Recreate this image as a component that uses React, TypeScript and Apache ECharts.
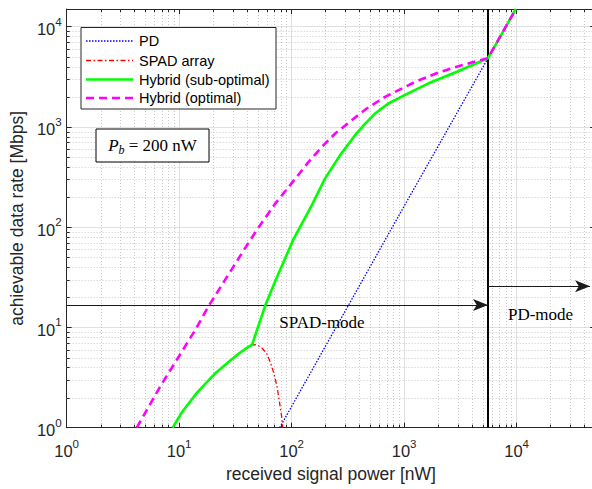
import React, { useEffect, useRef } from 'react';
import * as echarts from 'echarts';

// ---- data (x: received power [nW], y: rate [Mbps]) ----
const pdPoints: number[][] = [[78.3, 1], [1010, 165], [5570, 4845], [9850, 15000]];

const spadPoints: number[][] = [
  [8.77, 1], [10.7, 1.45], [14.5, 2.25], [21, 3.5], [28, 4.6], [34, 5.5], [40, 6.25], [44.6, 6.75],
  [49.5, 6.7], [54.7, 6.2], [60, 5.5], [64.7, 4.5], [70, 3.4], [74.2, 2.56], [78, 1.8], [82, 1.24], [83.5, 1],
];

const hybridSubPoints: number[][] = [
  [8.77, 1], [10.7, 1.45], [14.5, 2.25], [21, 3.5], [28, 4.6], [34, 5.5], [40, 6.25], [44.6, 6.75],
  [49, 9.3], [58.5, 16.7], [71.6, 29], [104, 76], [151, 165], [198, 305], [269, 520], [365, 822],
  [447, 1067], [548, 1352], [719, 1702], [1000, 2061], [1735, 2794], [2985, 3572], [5570, 4845], [9850, 15000],
];

const hybridOptPoints: number[][] = [
  [4.2, 1], [6.9, 2.66], [9.37, 4.6], [14.1, 9.7], [18.5, 16.7], [27.8, 34.5], [41.7, 71], [51, 100],
  [71.6, 172], [108, 305], [141, 446], [185, 629], [243, 855], [341, 1161], [462, 1518], [671, 1982],
  [1236, 2794], [1990, 3467], [3192, 4100], [5570, 4845], [9850, 15000],
];

const legendNames = ['PD', 'SPAD array', 'Hybrid (sub-optimal)', 'Hybrid (optimal)'];
const switchPower = 5570;
const spadArrowY = 16.7;
const pdArrowY = 25.8;
const pdArrowEnd = 45000;

const X_MIN = 1;
const X_MAX = 50000;
const Y_MIN = 1;
const Y_MAX = 15000;

const xMinor: number[] = [];
for (let k = 0; k <= 4; k++) for (let m = 2; m <= 9; m++) { const v = m * Math.pow(10, k); if (v < X_MAX) xMinor.push(v); }
const yMinor: number[] = [];
for (let k = 0; k <= 3; k++) for (let m = 2; m <= 9; m++) { const v = m * Math.pow(10, k); if (v < Y_MAX) yMinor.push(v); }

const SANS = '"Liberation Sans", Arial, Helvetica, sans-serif';
const SERIF = '"Liberation Serif", "Times New Roman", serif';
const AX = '#262626';

const powLabel = (v: number) => {
  const e = Math.log10(v);
  if (Math.abs(e - Math.round(e)) > 1e-6) return '';
  return `{b|10}{s|${Math.round(e)}}`;
};
const labelRich = {
  b: { fontSize: 16.5, fontFamily: SANS, color: AX, lineHeight: 22, verticalAlign: 'bottom' },
  s: { fontSize: 11.5, fontFamily: SANS, color: AX, lineHeight: 10, verticalAlign: 'top' },
};

const minorRender = (isX: boolean) => (params: any, api: any) => {
  const cs = params.coordSys;
  const v = api.value(isX ? 0 : 1);
  const p = api.coord(isX ? [v, Y_MIN] : [X_MIN, v]);
  const grid = { stroke: '#c9c9c9', lineWidth: 1, lineDash: [1, 2] };
  const tick = { stroke: AX, lineWidth: 1 };
  if (isX) {
    const x = Math.round(p[0]) + 0.5;
    const t = cs.y, b = cs.y + cs.height;
    return {
      type: 'group', children: [
        { type: 'line', shape: { x1: x, y1: t, x2: x, y2: b }, style: grid },
        { type: 'line', shape: { x1: x, y1: b, x2: x, y2: b - 3 }, style: tick },
        { type: 'line', shape: { x1: x, y1: t, x2: x, y2: t + 3 }, style: tick },
      ],
    };
  }
  const y = Math.round(p[1]) + 0.5;
  const l = cs.x, r = cs.x + cs.width;
  return {
    type: 'group', children: [
      { type: 'line', shape: { x1: l, y1: y, x2: r, y2: y }, style: grid },
      { type: 'line', shape: { x1: l, y1: y, x2: l + 3, y2: y }, style: tick },
      { type: 'line', shape: { x1: r, y1: y, x2: r - 3, y2: y }, style: tick },
    ],
  };
};

const legendStyles = [
  { stroke: '#0000ff', lineWidth: 1.3, lineDash: [1.5, 1.5] },
  { stroke: '#ff0000', lineWidth: 1.3, lineDash: [5, 2.5, 1.5, 2.5] },
  { stroke: '#00ff00', lineWidth: 2.6 },
  { stroke: '#ff00ff', lineWidth: 2.6, lineDash: [8, 5] },
];
const legendRowsY = [41, 60.5, 79.5, 98];

export default function App() {
  const ref = useRef<HTMLDivElement>(null);
  useEffect(() => {
    const chart = echarts.init(ref.current!, undefined, { renderer: 'svg' });
    const legendGraphics: any[] = [
      { type: 'rect', shape: { x: 81, y: 27.5, width: 195, height: 81.5 }, style: { fill: '#fff', stroke: AX, lineWidth: 1 }, z: 100 },
    ];
    legendNames.forEach((n, i) => {
      legendGraphics.push({ type: 'line', shape: { x1: 86, y1: legendRowsY[i], x2: 133, y2: legendRowsY[i] }, style: legendStyles[i], z: 101 });
      legendGraphics.push({
        type: 'text', x: 139, y: legendRowsY[i], z: 101,
        style: { text: n, fontSize: 14.5, fontFamily: SANS, fill: '#000', align: 'left', verticalAlign: 'middle', textAlign: 'left', textVerticalAlign: 'middle' },
      });
    });

    const arrowLine = { color: '#1a1a1a', width: 1, type: 'solid' };
    const option: any = {
      animation: false,
      backgroundColor: '#fff',
      grid: { left: 63.3, top: 9, width: 531.9, height: 418.7 },
      xAxis: [
        {
          type: 'log', logBase: 10, min: X_MIN, max: X_MAX, position: 'bottom',
          axisLine: { show: true, lineStyle: { color: AX, width: 1 } },
          axisTick: { show: true, inside: true, length: 5, lineStyle: { color: AX } },
          axisLabel: { formatter: powLabel, rich: labelRich, margin: 10, showMaxLabel: false },
          splitLine: { show: true, lineStyle: { color: '#e0e0e0', width: 1 } },
          name: 'received signal power [nW]', nameLocation: 'middle', nameGap: 37,
          nameTextStyle: { fontSize: 17.5, fontFamily: SANS, color: AX },
        },
        {
          type: 'log', logBase: 10, min: X_MIN, max: X_MAX, position: 'top',
          axisLine: { show: true, lineStyle: { color: AX, width: 1 } },
          axisTick: { show: true, inside: true, length: 5, lineStyle: { color: AX } },
          axisLabel: { show: false }, splitLine: { show: false },
        },
      ],
      yAxis: [
        {
          type: 'log', logBase: 10, min: Y_MIN, max: Y_MAX, position: 'left',
          axisLine: { show: true, lineStyle: { color: AX, width: 1 } },
          axisTick: { show: true, inside: true, length: 5, lineStyle: { color: AX } },
          axisLabel: { formatter: powLabel, rich: labelRich, margin: 5, showMaxLabel: false },
          splitLine: { show: true, lineStyle: { color: '#e0e0e0', width: 1 } },
          name: 'achievable data rate [Mbps]', nameLocation: 'middle', nameGap: 31,
          nameTextStyle: { fontSize: 17.5, fontFamily: SANS, color: AX },
        },
        {
          type: 'log', logBase: 10, min: Y_MIN, max: Y_MAX, position: 'right',
          axisLine: { show: true, lineStyle: { color: AX, width: 1 } },
          axisTick: { show: true, inside: true, length: 5, lineStyle: { color: AX } },
          axisLabel: { show: false }, splitLine: { show: false },
        },
      ],
      series: [
        {
          type: 'custom', name: 'xminor', z: 1, silent: true, clip: false,
          data: xMinor.map((v) => [v, Y_MIN]), encode: { x: 0, y: 1 },
          renderItem: minorRender(true),
        },
        {
          type: 'custom', name: 'yminor', z: 1, silent: true, clip: false,
          data: yMinor.map((v) => [X_MIN, v]), encode: { x: 0, y: 1 },
          renderItem: minorRender(false),
        },
        {
          type: 'line', name: legendNames[0], data: pdPoints, symbol: 'none', showSymbol: false, z: 3,
          lineStyle: { color: '#0000ff', width: 1.3, type: [1.5, 1.5] },
          markLine: {
            silent: true, animation: false, symbol: ['none', 'none'], label: { show: false }, z: 4,
            data: [
              [
                { coord: [switchPower, Y_MIN], symbol: 'none', lineStyle: { color: '#000', width: 2, type: 'solid' } },
                { coord: [switchPower, Y_MAX], symbol: 'none', lineStyle: { color: '#000', width: 2, type: 'solid' } },
              ],
              [
                { coord: [X_MIN, spadArrowY], symbol: 'none', lineStyle: arrowLine },
                { coord: [switchPower, spadArrowY], symbol: 'arrow', symbolSize: [9, 15], lineStyle: arrowLine },
              ],
              [
                { coord: [switchPower, pdArrowY], symbol: 'none', lineStyle: arrowLine },
                { coord: [pdArrowEnd, pdArrowY], symbol: 'arrow', symbolSize: [9, 15], lineStyle: arrowLine },
              ],
            ],
          },
        },
        {
          type: 'line', name: legendNames[1], data: spadPoints, symbol: 'none', showSymbol: false, z: 5,
          lineStyle: { color: '#ff0000', width: 1.3, type: [5, 2.5, 1.5, 2.5] },
        },
        {
          type: 'line', name: legendNames[2], data: hybridSubPoints, symbol: 'none', showSymbol: false, z: 6,
          lineStyle: { color: '#00ff00', width: 2.6, join: 'round' },
        },
        {
          type: 'line', name: legendNames[3], data: hybridOptPoints, symbol: 'none', showSymbol: false, z: 7,
          lineStyle: { color: '#ff00ff', width: 2.6, type: [8, 5] },
        },
      ],
      graphic: [
        ...legendGraphics,
        { type: 'rect', shape: { x: 96, y: 129, width: 113, height: 33 }, style: { fill: '#fff', stroke: '#000', lineWidth: 1 }, z: 100 },
        {
          type: 'text', x: 152.5, y: 145.5, z: 101,
          style: {
            text: '{i|P}{s|b}{n| = 200 nW}',
            align: 'center', verticalAlign: 'middle', textAlign: 'center', textVerticalAlign: 'middle',
            rich: {
              i: { fontSize: 17, fontFamily: SERIF, fontStyle: 'italic', fill: '#000', color: '#000', lineHeight: 20 },
              s: { fontSize: 12, fontFamily: SERIF, fontStyle: 'italic', fill: '#000', color: '#000', lineHeight: 14, verticalAlign: 'bottom' },
              n: { fontSize: 17, fontFamily: SERIF, fill: '#000', color: '#000', lineHeight: 20 },
            },
          },
        },
        {
          type: 'text', x: 322, y: 322, z: 101,
          style: { text: 'SPAD-mode', fontSize: 17, fontFamily: SERIF, fill: '#000', align: 'center', verticalAlign: 'middle', textAlign: 'center', textVerticalAlign: 'middle' },
        },
        {
          type: 'text', x: 540.5, y: 314, z: 101,
          style: { text: 'PD-mode', fontSize: 17, fontFamily: SERIF, fill: '#000', align: 'center', verticalAlign: 'middle', textAlign: 'center', textVerticalAlign: 'middle' },
        },
      ],
    };
    chart.setOption(option);
    return () => chart.dispose();
  }, []);
  return (
    <div style={{ position: 'fixed', left: 0, top: 0, width: 592, height: 489, overflow: 'hidden', background: '#fff' }}>
      <div ref={ref} style={{ width: 600, height: 489 }} />
    </div>
  );
}
